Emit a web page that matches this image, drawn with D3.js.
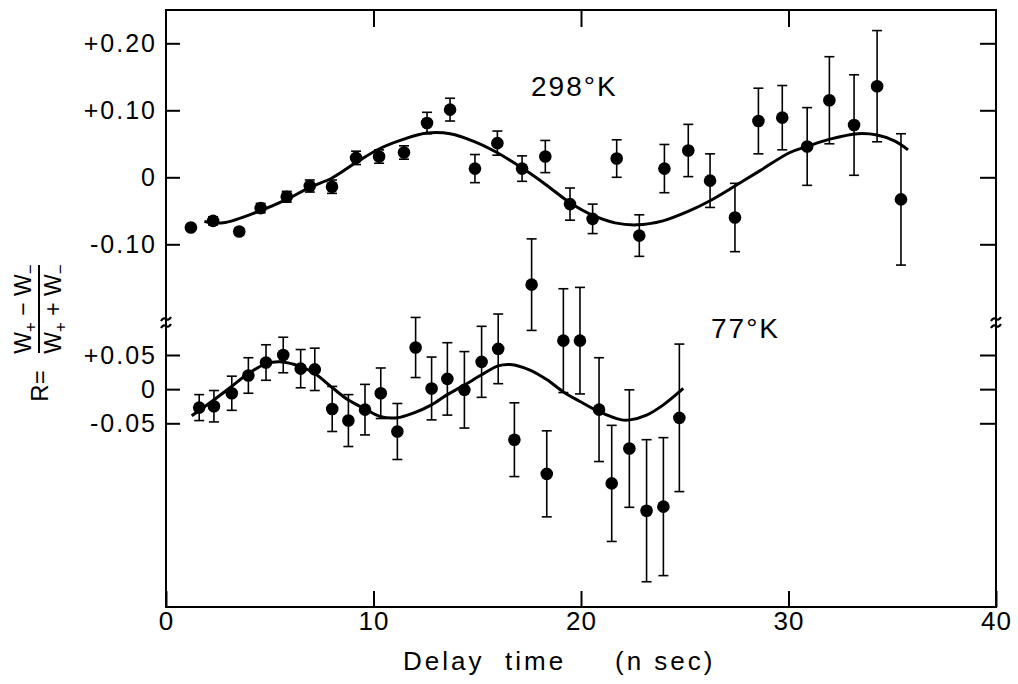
<!DOCTYPE html>
<html>
<head>
<meta charset="utf-8">
<script src="https://cdn.jsdelivr.net/npm/d3@7"></script>
<style>
  body { margin: 0; background: #fff; }
  svg { display: block; }
  text { font-family: "Liberation Sans", Arial, sans-serif; fill: #000; }
  .tick text { letter-spacing: 2px; }
</style>
</head>
<body>
<div class="chart"></div>
<script>
// 298 K data (delay time in nsec, R, error)
var hotT = [1.20, 2.27, 3.53, 4.56, 5.82, 6.93, 8.00, 9.16, 10.27, 11.47, 12.58, 13.69, 14.89, 15.97, 17.16, 18.28,
  19.47, 20.56, 21.72, 22.81, 24.02, 25.17, 26.22, 27.42, 28.55, 29.70, 30.90, 31.97, 33.16, 34.27, 35.42];
var hotR = [-0.075, -0.065, -0.081, -0.046, -0.029, -0.013, -0.014, 0.029, 0.031, 0.037, 0.081, 0.101, 0.013, 0.051, 0.013, 0.031,
  -0.040, -0.062, 0.028, -0.087, 0.013, 0.040, -0.005, -0.060, 0.084, 0.089, 0.046, 0.115, 0.078, 0.136, -0.033];
var hotErr = [0.004, 0.006, 0.005, 0.007, 0.008, 0.009, 0.010, 0.010, 0.010, 0.010, 0.016, 0.017, 0.021, 0.018, 0.019, 0.024,
  0.024, 0.022, 0.028, 0.031, 0.036, 0.039, 0.040, 0.051, 0.049, 0.048, 0.058, 0.065, 0.075, 0.083, 0.098];

// 77 K data
var coldT = [1.60, 2.31, 3.17, 3.97, 4.82, 5.65, 6.49, 7.17, 8.01, 8.79, 9.59, 10.35, 11.15, 12.03, 12.80, 13.56,
  14.38, 15.21, 16.01, 16.79, 17.62, 18.35, 19.15, 19.95, 20.87, 21.48, 22.33, 23.16, 23.97, 24.74];
var coldR = [-0.027, -0.025, -0.006, 0.020, 0.039, 0.050, 0.030, 0.029, -0.029, -0.046, -0.030, -0.006, -0.062, 0.061, 0.001, 0.015,
  -0.001, 0.040, 0.059, -0.074, 0.153, -0.124, 0.071, 0.071, -0.030, -0.138, -0.087, -0.178, -0.172, -0.042];
var coldErr = [0.019, 0.023, 0.025, 0.026, 0.026, 0.026, 0.028, 0.031, 0.033, 0.038, 0.037, 0.037, 0.041, 0.044, 0.046, 0.053,
  0.056, 0.052, 0.051, 0.054, 0.067, 0.063, 0.076, 0.078, 0.076, 0.085, 0.086, 0.104, 0.101, 0.108];

// fitted curves
var hotFitT = [1.85, 2.75, 4.53, 5.82, 6.93, 8.00, 9.16, 10.31, 11.47, 12.58, 13.69, 14.89, 15.95, 17.20, 18.31, 19.47,
  20.58, 21.64, 22.70, 23.95, 25.16, 26.22, 27.42, 28.63, 30.07, 30.89, 32.00, 33.35, 34.27, 35.13, 35.76];
var hotFitR = [-0.066, -0.068, -0.050, -0.033, -0.015, -0.001, 0.022, 0.043, 0.057, 0.066, 0.065, 0.053, 0.037, 0.013, -0.011, -0.038,
  -0.057, -0.068, -0.071, -0.065, -0.051, -0.035, -0.013, 0.010, 0.037, 0.046, 0.057, 0.065, 0.063, 0.054, 0.041];
var coldFitT = [1.24, 2.12, 3.08, 3.97, 4.82, 5.49, 6.49, 7.17, 8.06, 8.79, 9.59, 10.31, 11.15, 11.92, 12.80, 13.56,
  14.38, 15.21, 16.01, 16.58, 17.54, 18.35, 19.15, 19.95, 20.87, 21.96, 22.36, 23.16, 23.97, 24.93];
var coldFitR = [-0.039, -0.020, 0.002, 0.023, 0.037, 0.040, 0.033, 0.023, 0.001, -0.016, -0.029, -0.040, -0.042, -0.035, -0.023, -0.008,
  0.006, 0.021, 0.034, 0.036, 0.028, 0.014, -0.004, -0.018, -0.033, -0.045, -0.045, -0.038, -0.023, 0.001];

var xTicks = [0, 10, 20, 30, 40];
var hotTicks = [-0.10, 0, 0.10, 0.20];
var hotTickLabels = ["-0.10", "0", "+0.10", "+0.20"];
var coldTicks = [-0.05, 0, 0.05];
var coldTickLabels = ["-0.05", "0", "+0.05"];

var width = 1018, height = 684;
var frame = {left: 166, right: 996, top: 10, bottom: 607};

var x = d3.scaleLinear().domain([0, 40]).range([frame.left, frame.right]),
  yHot = d3.scaleLinear().domain([-0.10, 0.20]).range([244.3, 43.3]),
  yCold = d3.scaleLinear().domain([-0.05, 0.05]).range([423.3, 355]);

var svg = d3.select(".chart")
  .append("svg")
  .attr("width", width)
  .attr("height", height);

svg.append("rect")
  .attr("x", frame.left)
  .attr("y", frame.top)
  .attr("width", frame.right - frame.left)
  .attr("height", frame.bottom - frame.top)
  .attr("fill", "none")
  .attr("stroke", "#000")
  .attr("stroke-width", 2);

function styleAxis(g) {
  g.select(".domain").remove();
  g.selectAll(".tick line").attr("stroke", "#000").attr("stroke-width", 2);
}

svg.append("g")
  .attr("transform", "translate(0," + frame.bottom + ")")
  .call(d3.axisBottom(x).tickValues(xTicks).tickSize(-16).tickPadding(5).tickFormat(d3.format("d")))
  .call(styleAxis)
  .selectAll("text").style("font-size", "26px").style("letter-spacing", "1px");

svg.append("g")
  .attr("transform", "translate(0," + frame.top + ")")
  .call(d3.axisTop(x).tickValues([10, 20, 30]).tickSize(-17).tickFormat(""))
  .call(styleAxis);

svg.append("g")
  .attr("transform", "translate(" + frame.left + ",0)")
  .call(d3.axisLeft(yHot).tickValues(hotTicks).tickSize(-14).tickPadding(9)
    .tickFormat(function(d, i) { return hotTickLabels[i]; }))
  .call(styleAxis)
  .selectAll("text").style("font-size", "25px");

svg.append("g")
  .attr("transform", "translate(" + frame.left + ",0)")
  .call(d3.axisLeft(yCold).tickValues(coldTicks).tickSize(-14).tickPadding(9)
    .tickFormat(function(d, i) { return coldTickLabels[i]; }))
  .call(styleAxis)
  .selectAll("text").style("font-size", "25px");

svg.append("g")
  .attr("transform", "translate(" + frame.right + ",0)")
  .call(d3.axisRight(yHot).tickValues(hotTicks).tickSize(-16).tickFormat(""))
  .call(styleAxis);

svg.append("g")
  .attr("transform", "translate(" + frame.right + ",0)")
  .call(d3.axisRight(yCold).tickValues(coldTicks).tickSize(-16).tickFormat(""))
  .call(styleAxis);

// axis break marks
[frame.left, frame.right].forEach(function(ax) {
  [319, 326].forEach(function(by) {
    svg.append("path")
      .attr("d", "M" + (ax - 5) + "," + (by + 2) + " q2.5,-4 5,-2 t5,-2")
      .attr("fill", "none")
      .attr("stroke", "#000")
      .attr("stroke-width", 2.2);
  });
});

var line = d3.line().curve(d3.curveCatmullRom);

function drawSeries(T, R, E, fitT, fitR, y) {
  svg.append("path")
    .attr("d", line(fitT.map(function(t, i) { return [x(t), y(fitR[i])]; })))
    .attr("fill", "none")
    .attr("stroke", "#000")
    .attr("stroke-width", 3);

  var pts = svg.append("g").selectAll("g")
    .data(T.map(function(t, i) { return {t: t, r: R[i], e: E[i]}; }))
    .enter().append("g");

  pts.append("line")
    .attr("x1", function(d) { return x(d.t); })
    .attr("x2", function(d) { return x(d.t); })
    .attr("y1", function(d) { return y(d.r - d.e); })
    .attr("y2", function(d) { return y(d.r + d.e); })
    .attr("stroke", "#000")
    .attr("stroke-width", 1.6);

  [-1, 1].forEach(function(s) {
    pts.append("line")
      .attr("x1", function(d) { return x(d.t) - 5; })
      .attr("x2", function(d) { return x(d.t) + 5; })
      .attr("y1", function(d) { return y(d.r + s * d.e); })
      .attr("y2", function(d) { return y(d.r + s * d.e); })
      .attr("stroke", "#000")
      .attr("stroke-width", 1.6);
  });

  pts.append("circle")
    .attr("cx", function(d) { return x(d.t); })
    .attr("cy", function(d) { return y(d.r); })
    .attr("r", 6.3)
    .attr("fill", "#000");
}

drawSeries(hotT, hotR, hotErr, hotFitT, hotFitR, yHot);
drawSeries(coldT, coldR, coldErr, coldFitT, coldFitR, yCold);

svg.append("text")
  .attr("x", 531)
  .attr("y", 96)
  .style("font-size", "28px")
  .style("letter-spacing", "2px")
  .text("298°K");

svg.append("text")
  .attr("x", 711)
  .attr("y", 338)
  .style("font-size", "28px")
  .style("letter-spacing", "2px")
  .text("77°K");

var xlab = svg.append("text")
  .attr("y", 670)
  .style("font-size", "26px")
  .style("letter-spacing", "3px");
xlab.append("tspan").attr("x", 403).text("Delay");
xlab.append("tspan").attr("x", 505).text("time");
xlab.append("tspan").attr("x", 615).text("(n sec)");

// y label: R = (W+ - W-)/(W+ + W-)
var ylab = svg.append("g");

ylab.append("text")
  .attr("transform", "translate(48,386) rotate(-90)")
  .attr("text-anchor", "middle")
  .style("font-size", "24px")
  .text("R=");

ylab.append("line")
  .attr("x1", 39).attr("x2", 39)
  .attr("y1", 265).attr("y2", 353)
  .attr("stroke", "#000")
  .attr("stroke-width", 2);

function frac(tx, parts) {
  var t = ylab.append("text")
    .attr("transform", "translate(" + tx + ",309) rotate(-90)")
    .attr("text-anchor", "middle")
    .style("font-size", "23px");
  parts.forEach(function(p) {
    t.append("tspan")
      .attr("dy", p[1])
      .style("font-size", p[2])
      .text(p[0]);
  });
}

frac(31, [["W", 0, "23px"], ["+", 5, "17px"], [" − ", -5, "23px"], ["W", 0, "23px"], ["−", 5, "17px"]]);
frac(61, [["W", 0, "23px"], ["+", 5, "17px"], [" + ", -5, "23px"], ["W", 0, "23px"], ["−", 5, "17px"]]);
</script>
</body>
</html>
